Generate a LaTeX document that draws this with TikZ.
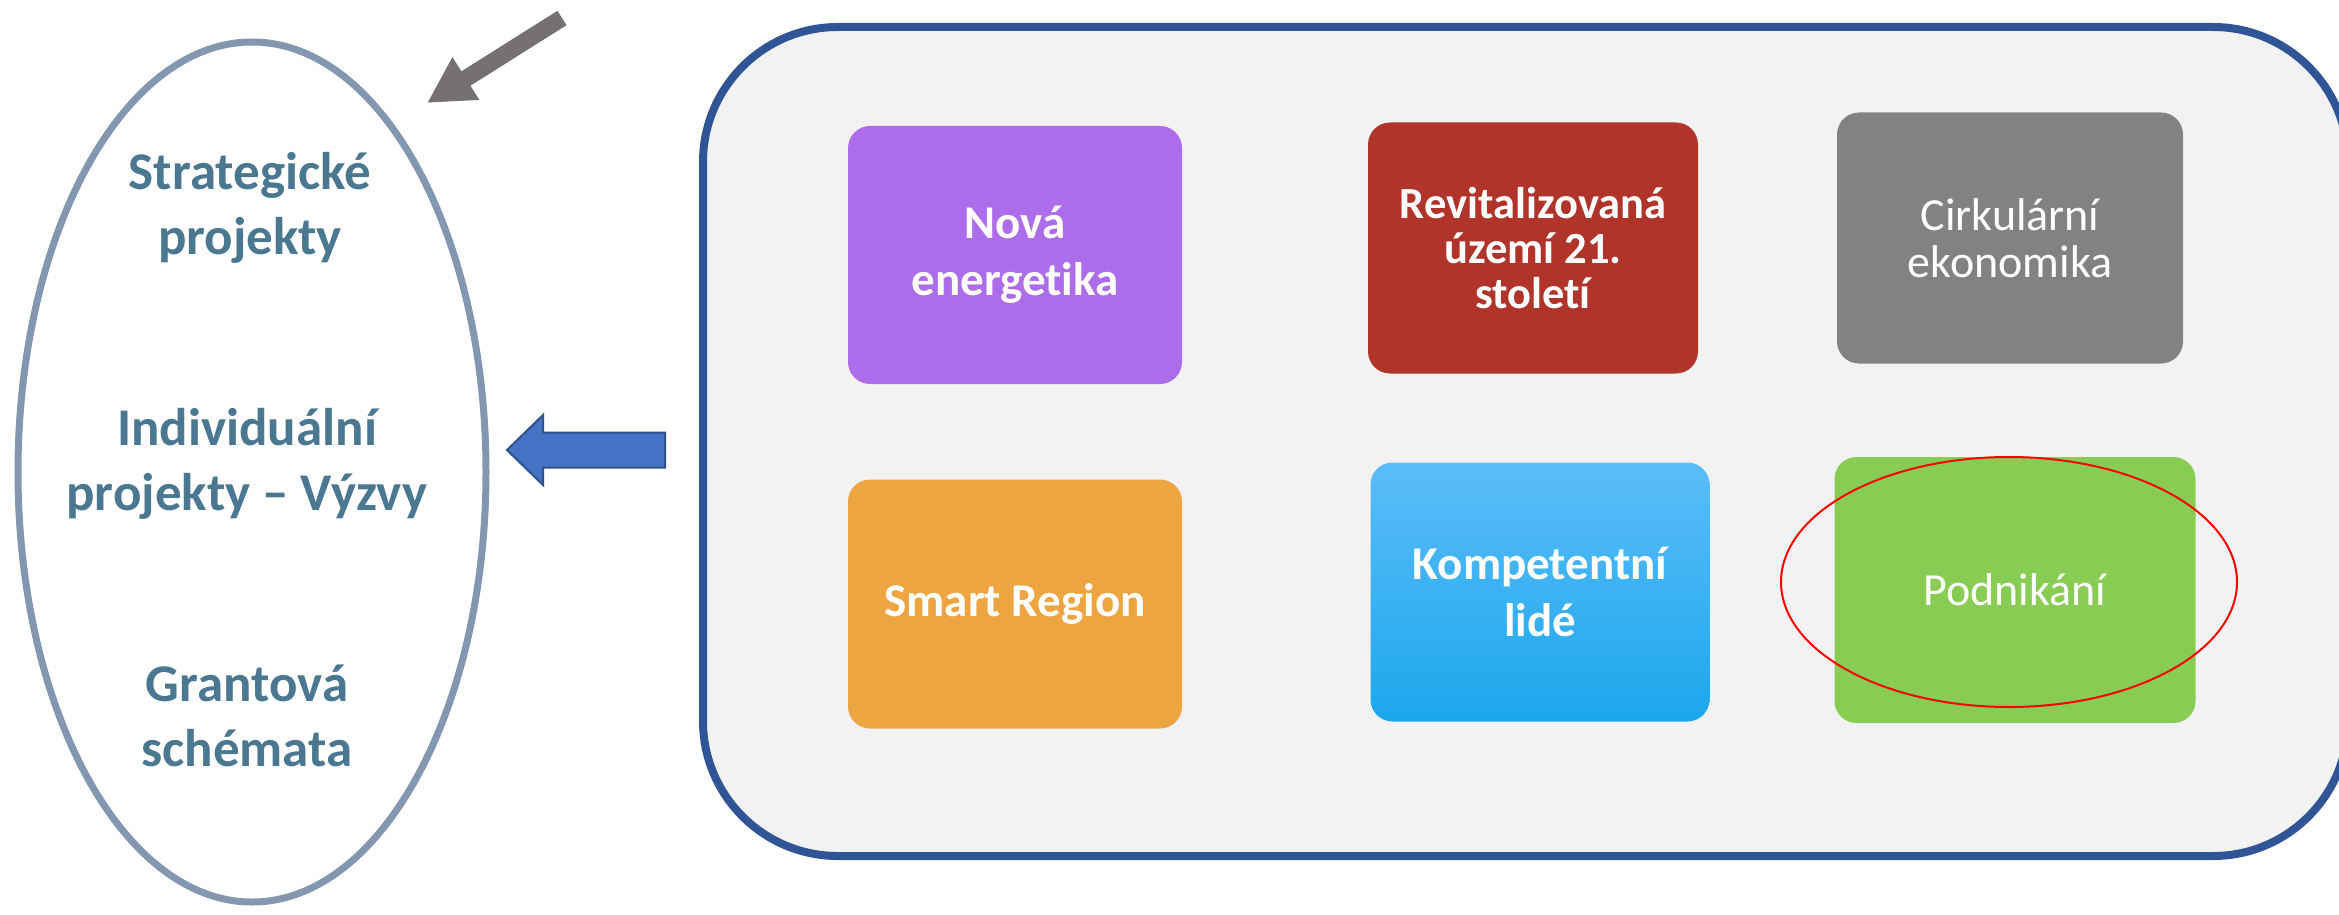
\documentclass[tikz,border=0pt]{standalone}
\usepackage{fontspec}
\setmainfont{Carlito}[Ligatures=NoCommon]
\usepackage{xcolor}
\usetikzlibrary{calc, arrows.meta, positioning, shapes.geometric}

\definecolor{panelfill}{HTML}{F2F2F2}
\definecolor{panelline}{HTML}{2F5597}
\definecolor{hubline}{HTML}{8497B0}
\definecolor{hubink}{HTML}{4A7890}
\definecolor{pointgray}{HTML}{767171}
\definecolor{pushblue}{HTML}{4472C4}
\definecolor{pushline}{HTML}{2F528F}
\definecolor{energy}{HTML}{AD6DEB}
\definecolor{revit}{HTML}{B0342A}
\definecolor{circular}{HTML}{828282}
\definecolor{smartor}{HTML}{EDA542}
\definecolor{skilltop}{HTML}{5BBDF9}
\definecolor{skillmid}{HTML}{2DB7FE}
\definecolor{skillbot}{HTML}{1CA7EC}
\definecolor{business}{HTML}{89CC54}

\begin{document}
\begin{tikzpicture}[x=1pt, y=-1pt, >=latex]
		\tikzstyle{panel} = [draw=panelline, fill=panelfill, line width=8pt, rounded corners=135pt]
		\tikzstyle{hub} = [draw=hubline, ellipse, line width=7pt, minimum width=468pt, minimum height=860pt]
		\tikzstyle{hubtext} = [text=hubink, align=center, font=\fontsize{53}{65}\selectfont\bfseries]
		\tikzstyle{tile} = [rectangle, rounded corners=22pt, text=white, align=center, inner sep=0pt]
		\tikzstyle{bold} = [font=\fontsize{47}{57}\selectfont\bfseries]
		\tikzstyle{semi} = [font=\fontsize{44.5}{45}\selectfont\bfseries]
		\tikzstyle{plain} = [font=\fontsize{46}{47}\selectfont]
		\tikzstyle{ring} = [draw=red, ellipse, line width=2pt, minimum width=456pt, minimum height=250pt]
		\tikzstyle{pointer} = [draw=pointgray, line width=17pt, -{Triangle[length=46pt, width=47pt]}]
		\tikzstyle{push} = [draw=pushline, fill=pushblue, line width=2pt, line join=miter]
		
		\useasboundingbox (0,0) rectangle (2339,915);
		
		\draw[panel] (703,27) rectangle (2348,856);
		
		\node[hub]	at (252, 472)	(hub)	{};
		\node[hubtext]	at (250, 208)	(strat)	{Strategické\\projekty};
		\node[hubtext]	at (247, 464)	(indiv)	{Individuální\\projekty -- Výzvy};
		\node[hubtext]	at (247, 716)	(grant)	{Grantová\\schémata};
		
		\node[tile, bold, fill=energy, minimum width=334pt, minimum height=258pt]	at (1015, 255)	(nova)	{Nová\\energetika};
		\node[tile, bold, fill=smartor, minimum width=334pt, minimum height=249pt]	at (1015, 604)	(smart)	{Smart Region};
		\node[tile, semi, fill=revit, minimum width=330pt, minimum height=251pt]	at (1533, 248)	(revit)	{Revitalizovaná\\území 21.\\století};
		\node[tile, bold, top color=skilltop, middle color=skillmid, bottom color=skillbot, minimum width=339pt, minimum height=259pt]	at (1540, 592)	(komp)	{Kompetentní\\lidé};
		\node[tile, plain, fill=circular, minimum width=346pt, minimum height=251pt]	at (2010, 238)	(cirk)	{Cirkulární\\ekonomika};
		\node[tile, plain, fill=business, minimum width=361pt, minimum height=266pt]	at (2015, 590)	(podn)	{Podnikání};
		
		\node[ring]	at (2009, 582)	(focus)	{};
		
		\coordinate (pointfrom) at (562, 18);
		\coordinate (pointto) at (427, 103);
		\draw[pointer] (pointfrom) -- (pointto);
		
		\coordinate (pushtip) at (507, 450);
		\draw[push] (pushtip) -- ++(36,-35) -- ++(0,17.5) -- ++(122,0) -- ++(0,35) -- ++(-122,0) -- ++(0,17.5) -- cycle;
	\end{tikzpicture}
\end{document}
